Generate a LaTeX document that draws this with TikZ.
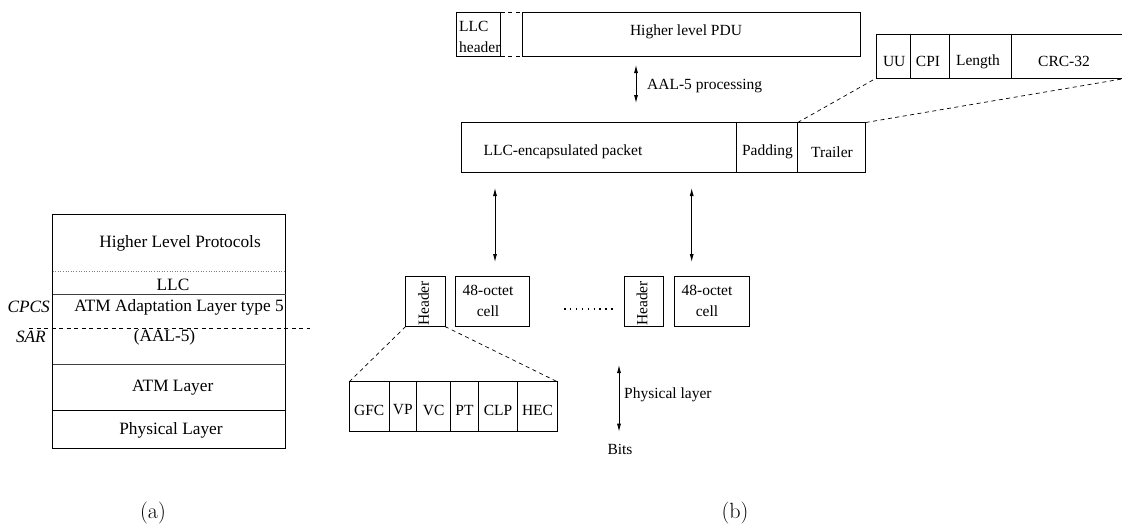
\documentclass[tikz,border=0pt]{standalone}
\usepackage{fontspec}
\newfontfamily\tms{Liberation Serif}
\usetikzlibrary{arrows.meta,fit}
\tikzset{
  box/.style={draw, line width=0.8pt, inner sep=0pt, outer sep=0pt},
  lbl/.style={inner sep=0pt, font=\tms\fontsize{15.5}{21}\selectfont},
  biglbl/.style={inner sep=0pt, font=\tms\fontsize{17.3}{20}\selectfont},
  itlbl/.style={inner sep=0pt, font=\tms\itshape\fontsize{17.3}{20}\selectfont},
  caplbl/.style={inner sep=0pt, font=\fontsize{22}{24}\selectfont},
  dashln/.style={line width=0.7pt, dash pattern=on 4pt off 3.5pt},
  dbl/.style={line width=0.8pt, {Latex[length=8pt,width=4pt]}-{Latex[length=8pt,width=4pt]}},
}
\begin{document}
\begin{tikzpicture}[x=1pt,y=-1pt]
\useasboundingbox (0,0) rectangle (1122,525);

% ---------------- (a) protocol stack ----------------
\node[box, fit={(52.5,214) (285.5,448)}] (stack) {};
\draw[gray, line width=0.6pt, dotted] (stack.west |- 0,271) -- (stack.east |- 0,271);
\draw[line width=0.9pt, black!75] (stack.west |- 0,294.7) -- (stack.east |- 0,294.7);
\draw[line width=0.9pt, black!75] (stack.west |- 0,364) -- (stack.east |- 0,364);
\draw[line width=0.8pt] (stack.west |- 0,410.7) -- (stack.east |- 0,410.7);
\coordinate (dl) at (29,328.5);
\coordinate (dr) at (310,328.5);
\draw[dashln] (dl) -- (dr);

\node[biglbl] (hlp) at (180,243.5) {Higher Level Protocols};
\node[biglbl] (llc) at (173,285) {LLC};
\node[biglbl] (aal) at (179,307.3) {ATM Adaptation Layer type 5};
\node[biglbl] (aal5) at (164.5,337) {(AAL-5)};
\node[biglbl] (atm) at (172.7,388) {ATM Layer};
\node[biglbl] (phy) at (171,430) {Physical Layer};
\node[itlbl, anchor=east] (cpcs) at (50,307.3) {CPCS};
\node[itlbl, anchor=east] (sar) at (46,337) {SAR};

% ---------------- (b) top row ----------------
\node[box, fit={(456,12.3) (500.7,56)}] (llch) {};
\node[box, fit={(522.7,12.3) (860,56)}] (pdu) {};
\draw[dashln] (llch.north east) -- (pdu.north west);
\draw[dashln] (llch.south east) -- (pdu.south west);
\node[lbl, align=left, anchor=north west] (llchT) at (459,21.5) {LLC\\header};
\node[lbl] (pduT) at (686,32) {Higher level PDU};

\coordinate (p1) at (636,65);
\coordinate (p2) at (636,103);
\draw[dbl] (p1) -- (p2);
\node[lbl, anchor=west] (procT) at (647,86) {AAL-5 processing};

% ---------------- packet ----------------
\node[box, fit={(461.7,122.5) (736.7,172)}] (pkt) {};
\node[box, fit={(736.7,122.5) (797.7,172)}] (pad) {};
\node[box, fit={(797.7,122.5) (865.7,172)}] (trl) {};
\node[lbl] (pktT) at (563,152) {LLC-encapsulated packet};
\node[lbl] (padT) at (767.5,152) {Padding};
\node[lbl] (trlT) at (832,152) {Trailer};

% ---------------- trailer expansion ----------------
\node[box, fit={(876,34.3) (910.7,78.3)}] (uu) {};
\node[box, fit={(910.7,34.3) (949.3,78.3)}] (cpi) {};
\node[box, fit={(949.3,34.3) (1011.7,78.3)}] (len) {};
\node[box, fit={(1011.7,34.3) (1126,78.3)}] (crc) {};
\node[lbl] (uuT) at (894.2,61.5) {UU};
\node[lbl] (cpiT) at (928,61.5) {CPI};
\node[lbl] (lenT) at (978,61.5) {Length};
\node[lbl] (crcT) at (1064,61.5) {CRC-32};
\draw[dashln] (trl.north west) -- (uu.south west);
\draw[dashln] (trl.north east) -- (crc.south east);

% ---------------- arrows to cells ----------------
\coordinate (a1t) at (495,188);
\coordinate (a1b) at (495,262);
\coordinate (a2t) at (691.7,188);
\coordinate (a2b) at (691.7,262);
\draw[dbl] (a1t) -- (a1b);
\draw[dbl] (a2t) -- (a2b);

% ---------------- cells ----------------
\node[box, fit={(405.7,276.7) (445,326.5)}] (h1) {};
\node[box, fit={(455.7,276.7) (529,326.5)}] (c1) {};
\node[box, fit={(624.3,276.7) (663.3,326.5)}] (h2) {};
\node[box, fit={(674.3,276.7) (749,326.5)}] (c2) {};
\node[lbl, rotate=90, anchor=west] (h1T) at (423.5,326) {Header};
\node[lbl, rotate=90, anchor=west] (h2T) at (642,326) {Header};
\node[lbl, align=center] (c1T) at (488,300.5) {48-octet\\cell};
\node[lbl, align=center] (c2T) at (707,300.5) {48-octet\\cell};
\coordinate (d1) at (564,309);
\coordinate (d2) at (617,309);
\draw[line width=1.5pt, dash pattern=on 1.5pt off 4.4pt] (d1) -- (d2);

% ---------------- header fields ----------------
\node[box, fit={(349.3,381.7) (389,431.7)}] (gfc) {};
\node[box, fit={(389,381.7) (416.7,431.7)}] (vp) {};
\node[box, fit={(416.7,381.7) (450.7,431.7)}] (vc) {};
\node[box, fit={(450.7,381.7) (478.3,431.7)}] (pt) {};
\node[box, fit={(478.3,381.7) (517.7,431.7)}] (clp) {};
\node[box, fit={(517.7,381.7) (557.3,431.7)}] (hec) {};
\node[lbl] (gfcT) at (369.2,410) {GFC};
\node[lbl] (vpT) at (402.8,410) {VP};
\node[lbl] (vcT) at (433.7,410) {VC};
\node[lbl] (ptT) at (464.5,410) {PT};
\node[lbl] (clpT) at (498,410) {CLP};
\node[lbl] (hecT) at (537.5,410) {HEC};
\draw[dashln] (h1.south west) -- (gfc.north west);
\draw[dashln] (h1.south east) -- (hec.north east);

% ---------------- physical layer ----------------
\coordinate (ph1) at (619,365);
\coordinate (ph2) at (619,431.7);
\draw[dbl] (ph1) -- (ph2);
\node[lbl, anchor=west] (phT) at (624,395) {Physical layer};
\node[lbl] (bits) at (620,449.5) {Bits};

% ---------------- captions ----------------
\node[caplbl] (capa) at (153,513) {(a)};
\node[caplbl] (capb) at (735,513) {(b)};
\end{tikzpicture}
\end{document}
